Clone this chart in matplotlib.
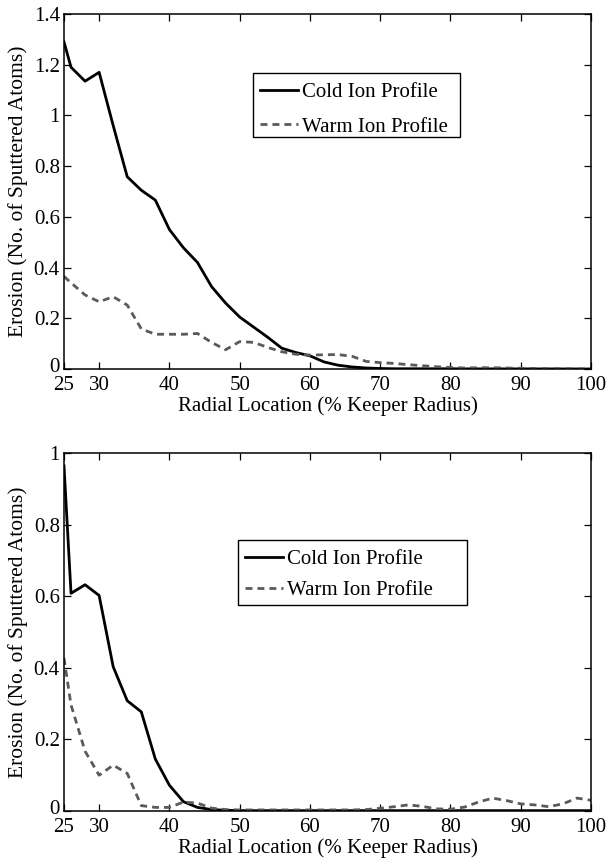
import matplotlib
matplotlib.use("Agg")
import matplotlib.pyplot as plt
from matplotlib.patches import Rectangle
from matplotlib.lines import Line2D
from matplotlib.ticker import FuncFormatter
from matplotlib.transforms import ScaledTranslation

plt.rcParams['font.family'] = ['Liberation Serif', 'DejaVu Serif']
plt.rcParams['mathtext.fontset'] = 'stix'

# ---------------- data ----------------
radial = [25, 26, 28, 30, 32, 34, 36, 38, 40, 42, 44, 46, 48, 50, 52, 54, 56, 58, 60,
          62, 64, 66, 68, 70, 72, 74, 76, 78, 80, 82, 84, 86, 88, 90, 92, 94, 96, 98, 100]

top_cold = [1.29, 1.19, 1.135, 1.17, 0.96, 0.758, 0.705, 0.666, 0.55, 0.478, 0.42, 0.325,
            0.26, 0.205, 0.165, 0.125, 0.082, 0.065, 0.052, 0.028, 0.015, 0.008, 0.004,
            0.002, 0.001, 0.001, 0.001, 0.001, 0.001, 0.0005, 0.0005, 0.0005, 0.0005,
            0.0005, 0.0003, 0.0003, 0.0002, 0.0001, 0.0]
top_warm = [0.365, 0.34, 0.292, 0.265, 0.285, 0.252, 0.158, 0.137, 0.137, 0.137, 0.14,
            0.105, 0.076, 0.108, 0.105, 0.085, 0.068, 0.058, 0.055, 0.056, 0.057, 0.05,
            0.03, 0.025, 0.022, 0.017, 0.013, 0.009, 0.006, 0.004, 0.005, 0.005, 0.004,
            0.003, 0.002, 0.001, 0.001, 0.0005, 0.0]

bot_cold = [0.964, 0.608, 0.632, 0.602, 0.403, 0.308, 0.277, 0.145, 0.072, 0.026, 0.01,
            0.004, 0.002, 0.001, 0.001, 0.001, 0.001, 0.001, 0.001, 0.001, 0.001, 0.001,
            0.001, 0.001, 0.001, 0.001, 0.001, 0.001, 0.001, 0.001, 0.001, 0.001, 0.001,
            0.001, 0.001, 0.001, 0.001, 0.001, 0.001]
bot_warm = [0.427, 0.296, 0.167, 0.10, 0.128, 0.105, 0.015, 0.01, 0.01, 0.025, 0.022,
            0.008, 0.004, 0.003, 0.003, 0.003, 0.003, 0.003, 0.003, 0.003, 0.003, 0.003,
            0.004, 0.0075, 0.012, 0.017, 0.013, 0.006, 0.005, 0.011, 0.025, 0.036, 0.029,
            0.02, 0.017, 0.012, 0.02, 0.036, 0.03]

x_ticks = [25, 30, 40, 50, 60, 70, 80, 90, 100]
top_yticks = [0, 0.2, 0.4, 0.6, 0.8, 1.0, 1.2, 1.4]
bot_yticks = [0, 0.2, 0.4, 0.6, 0.8, 1.0]
series_labels = ['Cold Ion Profile', 'Warm Ion Profile']
xlabel = 'Radial Location (% Keeper Radius)'
ylabel = 'Erosion (No. of Sputtered Atoms)'

# ---------------- styling ----------------
W, H = 608, 859
FS = 15
cold_color = 'black'
warm_color = '#5a5a5a'
LW = 2.0
dash = (0, (2.5, 1.8))

fig = plt.figure(figsize=(W / 100, H / 100), dpi=100)


def px_axes(left, top, right, bottom):
    return fig.add_axes([left / W, 1 - bottom / H, (right - left) / W, (bottom - top) / H])


def style(ax, yticks, ymax):
    ax.set_xlim(25, 100)
    ax.set_ylim(0, ymax)
    ax.set_xticks(x_ticks)
    ax.set_yticks(yticks)
    ax.yaxis.set_major_formatter(FuncFormatter(lambda v, p: '%g' % v))
    ax.tick_params(direction='in', length=5, width=0.9, top=True, right=True,
                   labelsize=FS)
    ax.tick_params(axis='x', pad=5)
    ax.tick_params(axis='y', pad=3)
    for s in ax.spines.values():
        s.set_linewidth(1.1)
    ax.set_xlabel(xlabel, fontsize=FS, labelpad=1)
    ax.set_ylabel(ylabel, fontsize=15.5, labelpad=4)
    # nudge the "0" y tick label up a little so it clears the "25" x label
    fig.canvas.draw()
    lab0 = ax.get_yticklabels()[0]
    lab0.set_transform(lab0.get_transform() + ScaledTranslation(0, 4 / 100, fig.dpi_scale_trans))


def draw_legend(ax, left, top, right, bottom, spacing):
    rect = Rectangle((left / W, 1 - bottom / H), (right - left) / W,
                     (bottom - top) / H, transform=fig.transFigure,
                     facecolor='white', edgecolor='black', linewidth=1.0,
                     zorder=4, clip_on=False)
    ax.add_patch(rect)
    handles = [Line2D([], [], color=cold_color, lw=LW),
               Line2D([], [], color=warm_color, lw=LW, linestyle=dash)]
    leg = ax.legend(handles, series_labels, loc='upper left',
                    bbox_to_anchor=((left - 3) / W, 1 - (top - 1) / H),
                    bbox_transform=fig.transFigure, frameon=False, fontsize=FS,
                    handlelength=1.8, handletextpad=0.2, labelspacing=spacing,
                    borderpad=0.5, borderaxespad=0)
    leg.set_zorder(6)


ax1 = px_axes(64, 14, 591, 369)
ax1.plot(radial, top_cold, color=cold_color, lw=LW, label=series_labels[0])
ax1.plot(radial, top_warm, color=warm_color, lw=LW, linestyle=dash, label=series_labels[1])
style(ax1, top_yticks, 1.4)
draw_legend(ax1, 253, 73, 460, 137, 0.72)

ax2 = px_axes(64, 453, 591, 811)
ax2.plot(radial, bot_cold, color=cold_color, lw=LW, label=series_labels[0])
ax2.plot(radial, bot_warm, color=warm_color, lw=LW, linestyle=dash, label=series_labels[1])
style(ax2, bot_yticks, 1.0)
draw_legend(ax2, 238, 540, 467, 605, 0.56)

fig.savefig('out.png', dpi=100)
